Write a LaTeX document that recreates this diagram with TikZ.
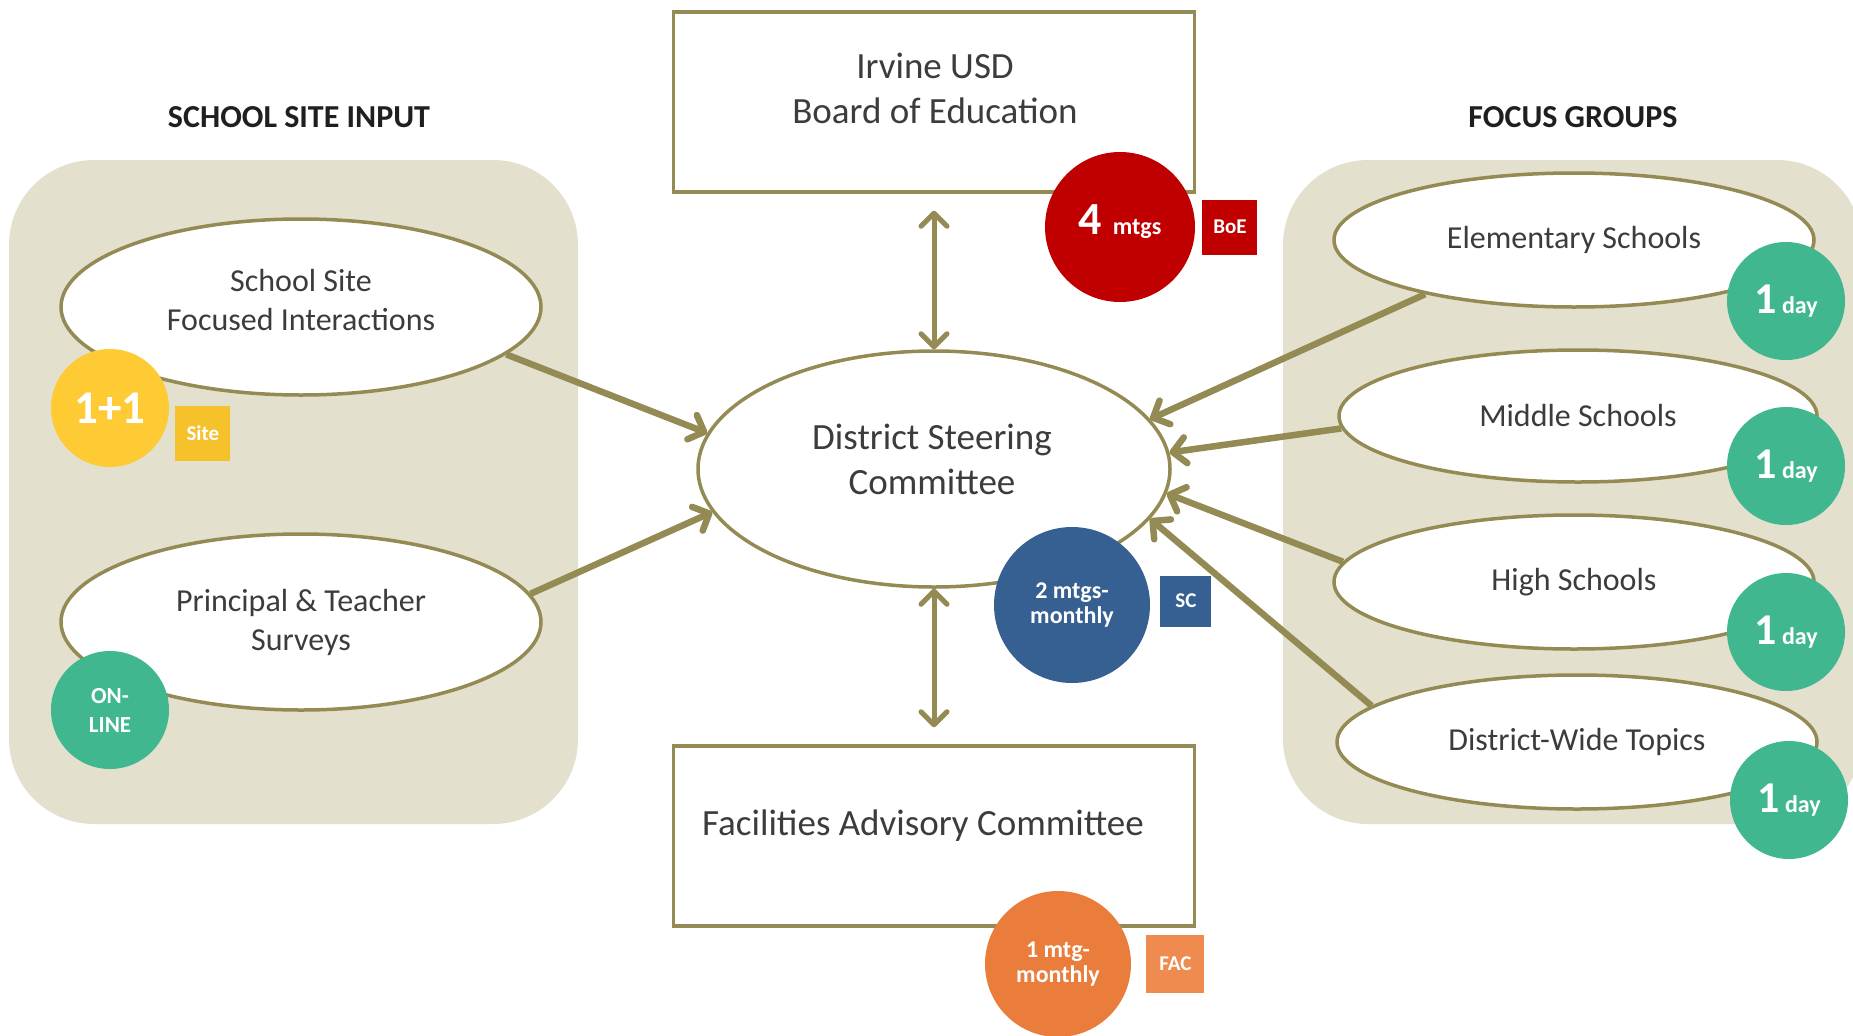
\documentclass[tikz,border=0pt]{standalone}
\usepackage{fontspec}
\setmainfont{Carlito}
\usetikzlibrary{arrows.meta,shapes.geometric,positioning}
\definecolor{olivetan}{HTML}{948A54}
\definecolor{panelbg}{HTML}{E3E0CD}
\definecolor{ink}{HTML}{3C3C3C}
\definecolor{boered}{HTML}{C00000}
\definecolor{sunny}{HTML}{FECB35}
\definecolor{sitegold}{HTML}{F5C22B}
\definecolor{jade}{HTML}{40B78F}
\definecolor{scblue}{HTML}{376092}
\definecolor{tangerine}{HTML}{EA7D3B}
\definecolor{facorange}{HTML}{EF8B4F}

\begin{document}
\begin{tikzpicture}[x=1pt,y=-1pt,>={Straight Barb[length=13pt,width=26pt,round]},
  panel/.style={fill=panelbg,rounded corners=85pt},
  heading/.style={font=\bfseries\fontsize{32}{32}\selectfont,text=black!88},
  group/.style={ellipse,draw=olivetan,line width=3.5pt,fill=white,inner sep=0pt,
    text=ink,align=center,font=\fontsize{32}{39}\selectfont},
  boardbox/.style={rectangle,draw=olivetan,line width=3.5pt,fill=white,inner sep=0pt,
    minimum width=521pt,minimum height=180pt},
  boardtext/.style={text=ink,align=center,font=\fontsize{37}{45}\selectfont},
  badge/.style={circle,inner sep=0pt,minimum size=118pt,text=white,align=center,
    font=\bfseries\fontsize{24}{25}\selectfont},
  tag/.style={rectangle,inner sep=0pt,minimum size=55pt,text=white,
    font=\bfseries\fontsize{21}{21}\selectfont},
  link/.style={draw=olivetan,line width=6.5pt,->}]

  \useasboundingbox (0,0) rectangle (1853,1036);
  \fill[panel] (9,160) rectangle (578,824);
  \fill[panel] (1283,160) rectangle (1862,824);

  \node[heading] (sitehead)  at (299,117)  {SCHOOL SITE INPUT};
  \node[heading] (focushead) at (1573,117) {FOCUS GROUPS};

  \node[group,minimum width=480pt,minimum height=176pt] (site)   at (301,307) {School Site\\Focused Interactions\\[-24pt]};
  \node[group,minimum width=480pt,minimum height=176pt] (survey) at (301,622) {Principal \& Teacher\\Surveys};

  \node[group,minimum width=480pt,minimum height=134pt] (elem)   at (1574,240) {Elementary Schools};
  \node[group,minimum width=478pt,minimum height=132pt] (middle) at (1578,416) {Middle Schools};
  \node[group,minimum width=480pt,minimum height=134pt] (high)   at (1574,582) {High Schools};
  \node[group,minimum width=480pt,minimum height=134pt] (wide)   at (1577,742) {District-Wide Topics};

  \node[group,minimum width=472pt,minimum height=236pt] (dsc) at (934,469) {};
  \node[boardtext] (dsctext) at (932,459) {District Steering\\Committee};

  \node[boardbox] (boe) at (934,102) {};
  \node[boardtext] (boetext) at (935,88) {Irvine USD\\Board of Education};
  \node[boardbox] (fac) at (934,836) {};
  \node[boardtext] (factext) at (923,826) {Facilities Advisory Committee};

  \draw[link,<->,line width=5pt,shorten <=17pt] (boe) -- (dsc);
  \draw[link,<->,line width=5pt,shorten >=17pt] (dsc) -- (fac);
  \draw[link] (site.-13)  -- (dsc.171);
  \draw[link] (survey.7)  -- (dsc.-169);
  \draw[link] (elem.200)  -- (dsc.13);
  \draw[link] (middle.183) -- (dsc.4);
  \draw[link] (high.175)  -- (dsc.-6);
  \draw[link] (wide.170)  -- (dsc.-13);

  \node[badge,fill=sunny,font=\bfseries\fontsize{47}{47}\selectfont] (oneone) at (110,408) {1+1};
  \node[tag,fill=sitegold,right=6pt of oneone,yshift=-25pt] (sitetag) {Site};
  \node[badge,fill=jade,font=\bfseries\fontsize{23}{29}\selectfont] (online) at (110,710) {ON-\\LINE};

  \node[badge,fill=boered,minimum size=150pt] (fourmtgs) at (1120,227) {{\fontsize{46}{46}\selectfont 4}\ \ mtgs\\[-11pt]};
  \node[tag,fill=boered,right=7pt of fourmtgs] (boetag) {BoE};

  \node[badge,fill=scblue,minimum size=156pt] (twomtgs) at (1072,605) {2 mtgs-\\monthly};
  \node[tag,fill=scblue,minimum size=51pt,right=10pt of twomtgs,yshift=4pt] (sctag) {SC};

  \node[badge,fill=tangerine,minimum size=146pt] (onemtg) at (1058,964) {1 mtg-\\monthly};
  \node[tag,fill=facorange,minimum size=58pt,right=15pt of onemtg] (factag) {FAC};

  \node[badge,fill=jade] (dayelem)   at (1786,301) {{\fontsize{44}{44}\selectfont 1}\ day};
  \node[badge,fill=jade] (daymiddle) at (1786,466) {{\fontsize{44}{44}\selectfont 1}\ day};
  \node[badge,fill=jade] (dayhigh)   at (1786,632) {{\fontsize{44}{44}\selectfont 1}\ day};
  \node[badge,fill=jade] (daywide)   at (1789,800) {{\fontsize{44}{44}\selectfont 1}\ day};
\end{tikzpicture}
\end{document}
